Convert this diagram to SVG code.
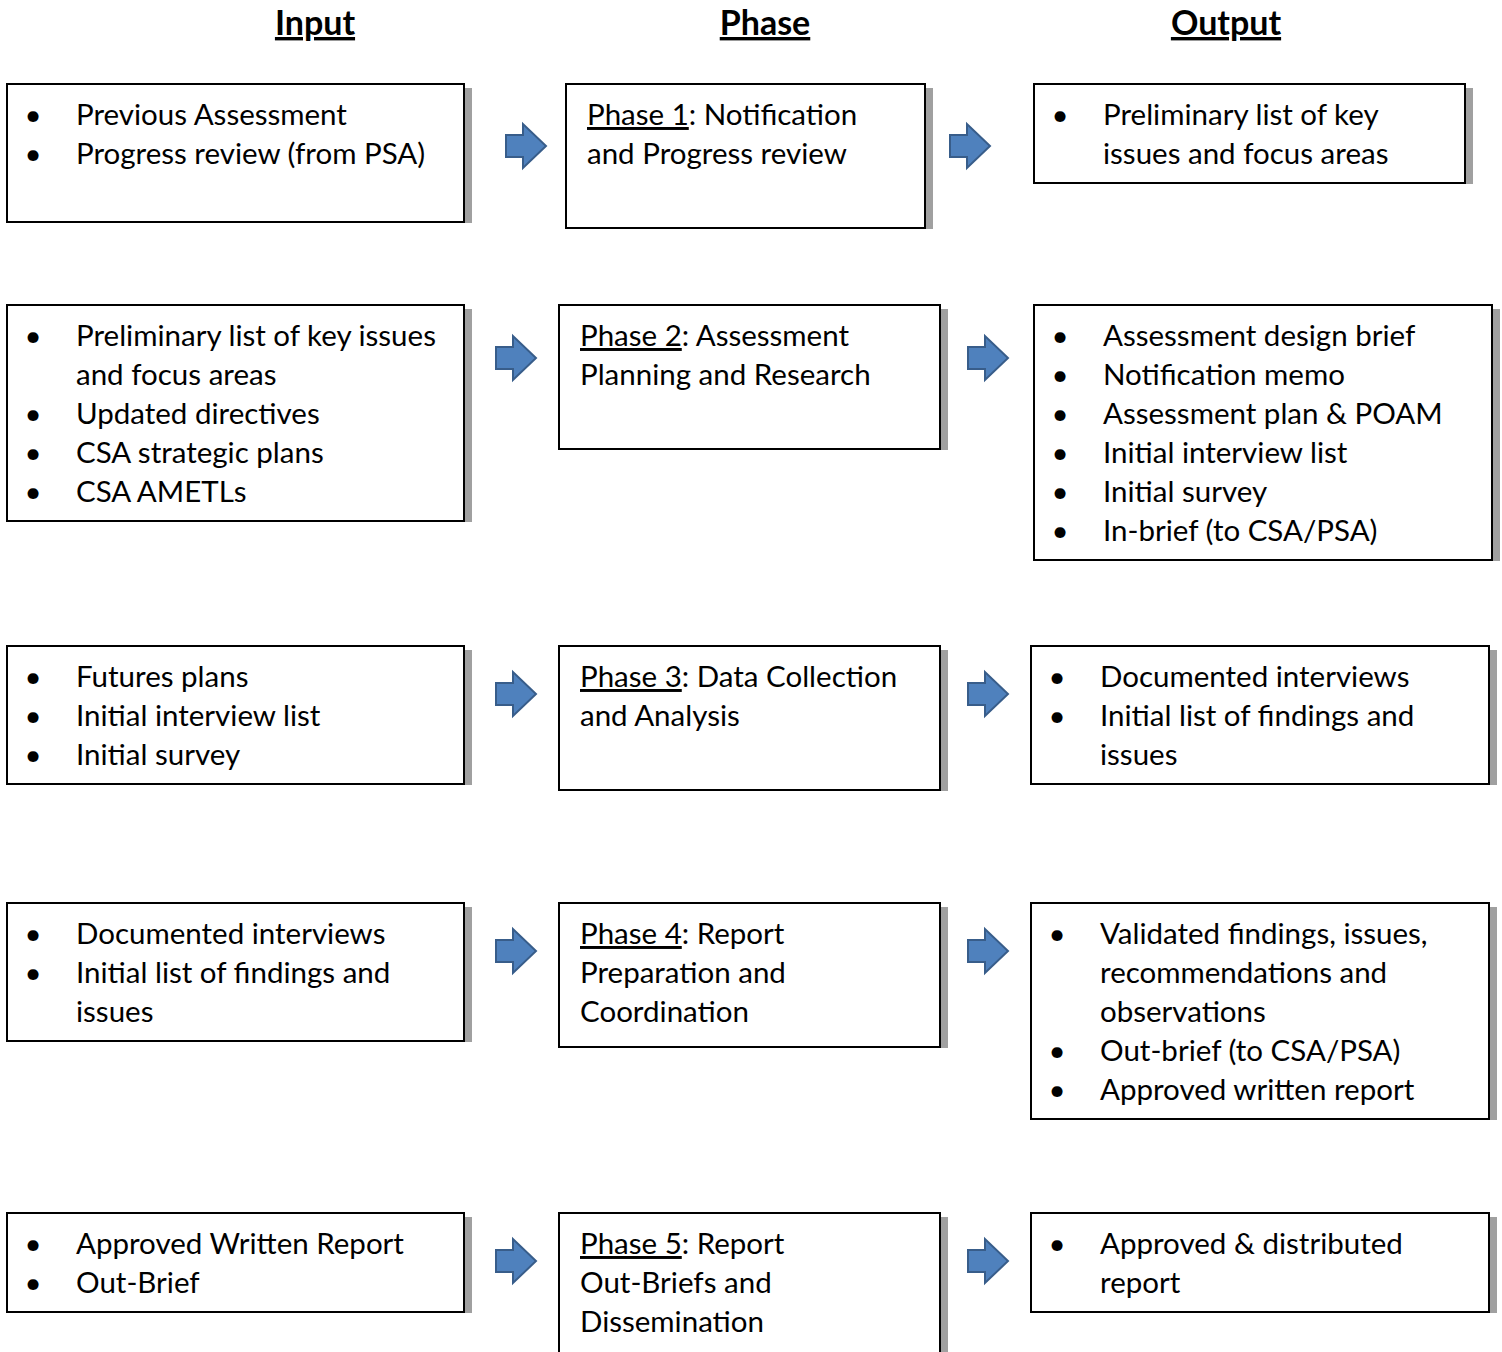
<svg xmlns="http://www.w3.org/2000/svg" width="1502" height="1352" viewBox="0 0 1502 1352">
<defs>
<style>
text{font-family:"Lato","Liberation Sans",sans-serif;font-size:29.5px;fill:#000}
.h{font-weight:bold;font-size:34px;text-decoration:underline;text-anchor:middle}
.b{text-anchor:middle}
.box{fill:#fff;stroke:#000;stroke-width:2}
.sh{fill:#a0a0a0}
.arr{fill:#4f81bd;stroke:#385d8a;stroke-width:2}
.u{text-decoration:underline}
</style>
<path id="arrow" class="arr" d="M0,-11 H17 V-22 L40,0 L17,22 V11 H0 Z"/>
</defs>
<g id="headers">
<text class="h" x="315" y="35">Input</text>
<text class="h" x="765" y="35">Phase</text>
<text class="h" x="1226" y="35">Output</text>
</g>
<g id="connectors">
<use href="#arrow" x="506" y="146"/>
<use href="#arrow" x="950" y="146"/>
<use href="#arrow" x="496" y="358"/>
<use href="#arrow" x="968" y="358"/>
<use href="#arrow" x="496" y="694"/>
<use href="#arrow" x="968" y="694"/>
<use href="#arrow" x="496" y="951"/>
<use href="#arrow" x="968" y="951"/>
<use href="#arrow" x="496" y="1261"/>
<use href="#arrow" x="968" y="1261"/>
</g>
<g id="input1">
<rect class="sh" x="465" y="88" width="7" height="135"/>
<rect class="box" x="7" y="84" width="457" height="138"/>
<text class="b" x="33" y="125">•</text><text x="76" y="125">Previous Assessment</text>
<text class="b" x="33" y="164">•</text><text x="76" y="164">Progress review (from PSA)</text>
</g>
<g id="phase1">
<rect class="sh" x="926" y="88" width="7" height="141"/>
<rect class="box" x="566" y="84" width="359" height="144"/>
<text x="587" y="125"><tspan class="u">Phase 1</tspan>: Notification</text>
<text x="587" y="164">and Progress review</text>
</g>
<g id="output1">
<rect class="sh" x="1466" y="88" width="7" height="96"/>
<rect class="box" x="1034" y="84" width="431" height="99"/>
<text class="b" x="1060" y="125">•</text><text x="1103" y="125">Preliminary list of key</text>
<text x="1103" y="164">issues and focus areas</text>
</g>
<g id="input2">
<rect class="sh" x="465" y="309" width="7" height="213"/>
<rect class="box" x="7" y="305" width="457" height="216"/>
<text class="b" x="33" y="346">•</text><text x="76" y="346">Preliminary list of key issues</text>
<text x="76" y="385">and focus areas</text>
<text class="b" x="33" y="424">•</text><text x="76" y="424">Updated directives</text>
<text class="b" x="33" y="463">•</text><text x="76" y="463">CSA strategic plans</text>
<text class="b" x="33" y="502">•</text><text x="76" y="502">CSA AMETLs</text>
</g>
<g id="phase2">
<rect class="sh" x="941" y="309" width="7" height="141"/>
<rect class="box" x="559" y="305" width="381" height="144"/>
<text x="580" y="346"><tspan class="u">Phase 2</tspan>: Assessment</text>
<text x="580" y="385">Planning and Research</text>
</g>
<g id="output2">
<rect class="sh" x="1493" y="309" width="7" height="252"/>
<rect class="box" x="1034" y="305" width="458" height="255"/>
<text class="b" x="1060" y="346">•</text><text x="1103" y="346">Assessment design brief</text>
<text class="b" x="1060" y="385">•</text><text x="1103" y="385">Notification memo</text>
<text class="b" x="1060" y="424">•</text><text x="1103" y="424">Assessment plan &amp; POAM</text>
<text class="b" x="1060" y="463">•</text><text x="1103" y="463">Initial interview list</text>
<text class="b" x="1060" y="502">•</text><text x="1103" y="502">Initial survey</text>
<text class="b" x="1060" y="541">•</text><text x="1103" y="541">In-brief (to CSA/PSA)</text>
</g>
<g id="input3">
<rect class="sh" x="465" y="650" width="7" height="135"/>
<rect class="box" x="7" y="646" width="457" height="138"/>
<text class="b" x="33" y="687">•</text><text x="76" y="687">Futures plans</text>
<text class="b" x="33" y="726">•</text><text x="76" y="726">Initial interview list</text>
<text class="b" x="33" y="765">•</text><text x="76" y="765">Initial survey</text>
</g>
<g id="phase3">
<rect class="sh" x="941" y="650" width="7" height="141"/>
<rect class="box" x="559" y="646" width="381" height="144"/>
<text x="580" y="687"><tspan class="u">Phase 3</tspan>: Data Collection</text>
<text x="580" y="726">and Analysis</text>
</g>
<g id="output3">
<rect class="sh" x="1490" y="650" width="7" height="135"/>
<rect class="box" x="1031" y="646" width="458" height="138"/>
<text class="b" x="1057" y="687">•</text><text x="1100" y="687">Documented interviews</text>
<text class="b" x="1057" y="726">•</text><text x="1100" y="726">Initial list of findings and</text>
<text x="1100" y="765">issues</text>
</g>
<g id="input4">
<rect class="sh" x="465" y="907" width="7" height="135"/>
<rect class="box" x="7" y="903" width="457" height="138"/>
<text class="b" x="33" y="944">•</text><text x="76" y="944">Documented interviews</text>
<text class="b" x="33" y="983">•</text><text x="76" y="983">Initial list of findings and</text>
<text x="76" y="1022">issues</text>
</g>
<g id="phase4">
<rect class="sh" x="941" y="907" width="7" height="141"/>
<rect class="box" x="559" y="903" width="381" height="144"/>
<text x="580" y="944"><tspan class="u">Phase 4</tspan>: Report</text>
<text x="580" y="983">Preparation and</text>
<text x="580" y="1022">Coordination</text>
</g>
<g id="output4">
<rect class="sh" x="1490" y="907" width="7" height="213"/>
<rect class="box" x="1031" y="903" width="458" height="216"/>
<text class="b" x="1057" y="944">•</text><text x="1100" y="944">Validated findings, issues,</text>
<text x="1100" y="983">recommendations and</text>
<text x="1100" y="1022">observations</text>
<text class="b" x="1057" y="1061">•</text><text x="1100" y="1061">Out-brief (to CSA/PSA)</text>
<text class="b" x="1057" y="1100">•</text><text x="1100" y="1100">Approved written report</text>
</g>
<g id="input5">
<rect class="sh" x="465" y="1217" width="7" height="96"/>
<rect class="box" x="7" y="1213" width="457" height="99"/>
<text class="b" x="33" y="1254">•</text><text x="76" y="1254">Approved Written Report</text>
<text class="b" x="33" y="1293">•</text><text x="76" y="1293">Out-Brief</text>
</g>
<g id="phase5">
<rect class="sh" x="941" y="1217" width="7" height="140"/>
<rect class="box" x="559" y="1213" width="381" height="144"/>
<text x="580" y="1254"><tspan class="u">Phase 5</tspan>: Report</text>
<text x="580" y="1293">Out-Briefs and</text>
<text x="580" y="1332">Dissemination</text>
</g>
<g id="output5">
<rect class="sh" x="1490" y="1217" width="7" height="96"/>
<rect class="box" x="1031" y="1213" width="458" height="99"/>
<text class="b" x="1057" y="1254">•</text><text x="1100" y="1254">Approved &amp; distributed</text>
<text x="1100" y="1293">report</text>
</g>
</svg>
